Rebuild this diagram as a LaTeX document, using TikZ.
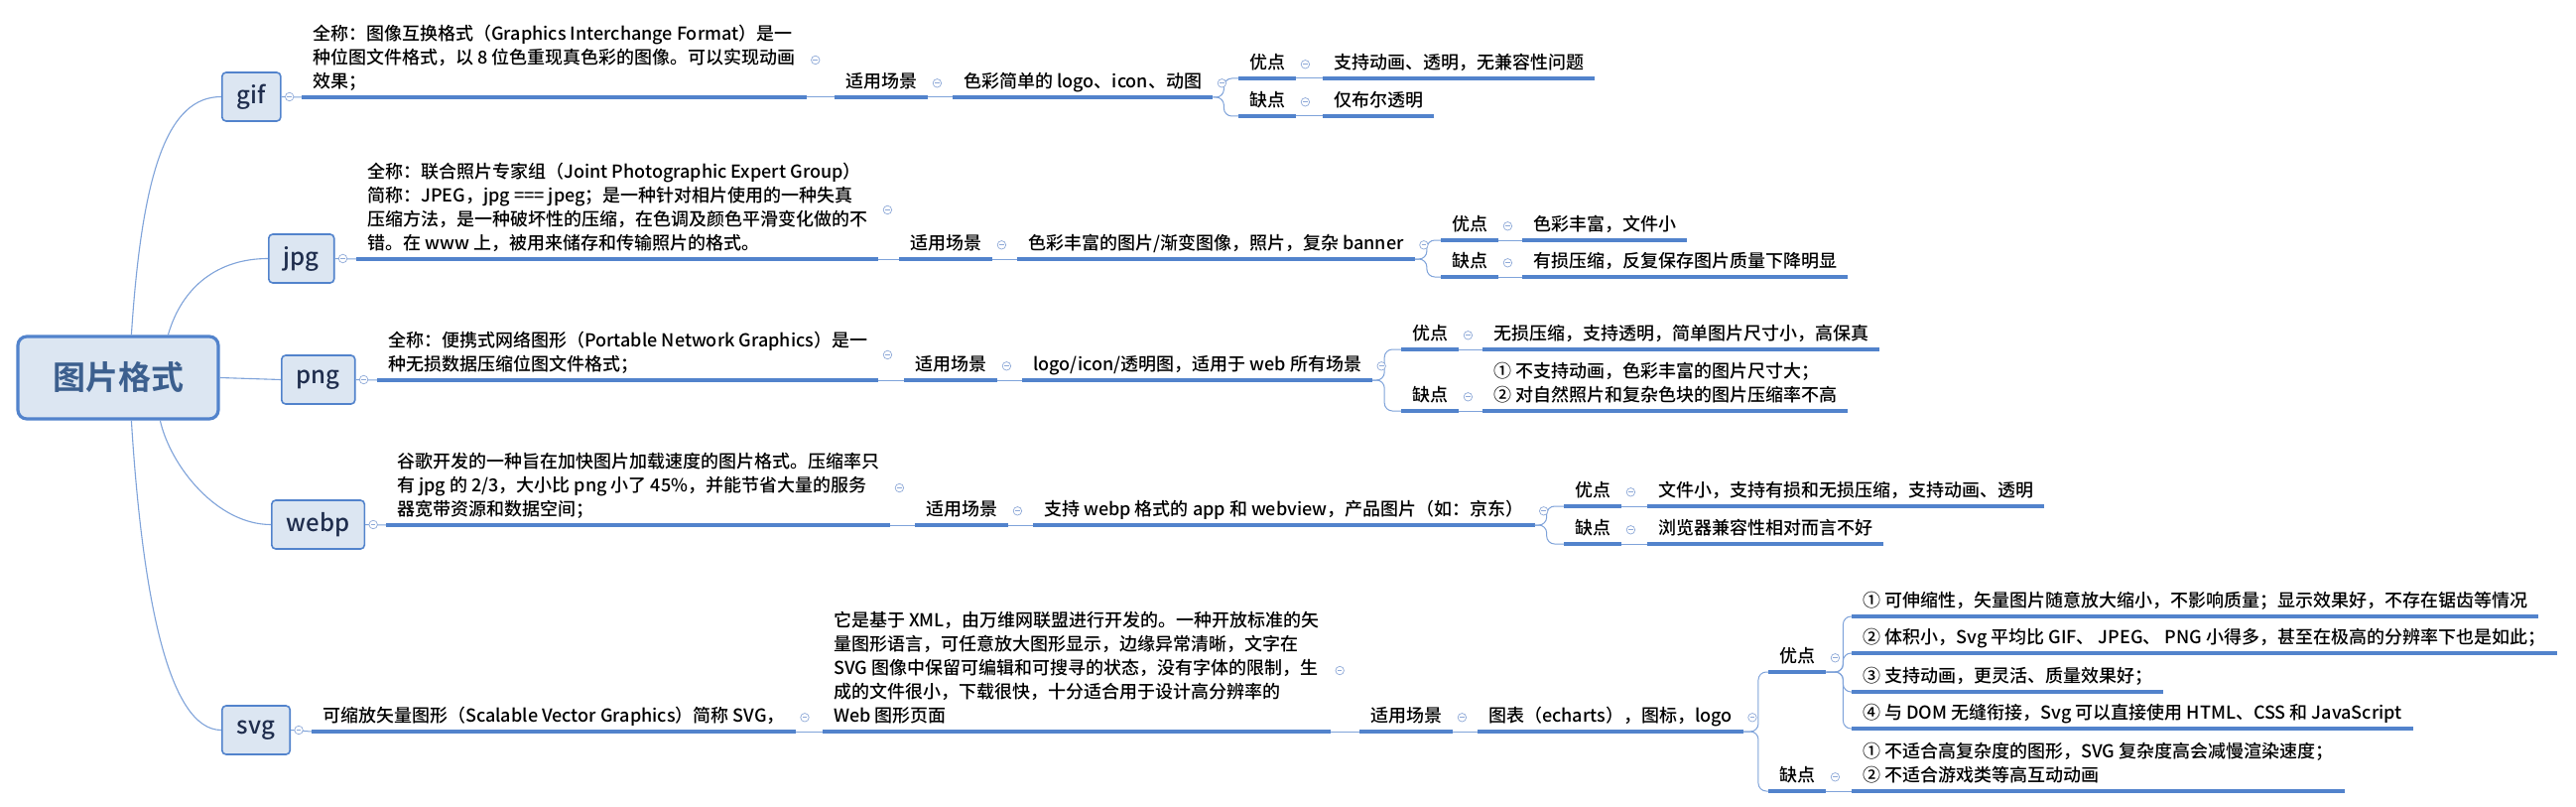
\documentclass[tikz,border=0pt]{standalone}
\usepackage{fontspec}
\setmainfont{Noto Sans CJK SC}[UprightFont=* Medium, BoldFont=* Bold]
\usepackage{xcolor}
\usepackage{tikz}

\definecolor{lineblue}{HTML}{5283CC}
\definecolor{linkblue}{HTML}{7FA3DA}
\definecolor{boxfill}{HTML}{DCE6F2}
\definecolor{rootink}{HTML}{3C5F8E}
\definecolor{fmtink}{HTML}{1F2D4D}
\definecolor{foldblue}{HTML}{8EA9D8}

\begin{document}
\begin{tikzpicture}[
  x=1pt, y=-1pt,
  every node/.style={font=\fontsize{18}{24}\selectfont, text=black},
  rootbox/.style={draw=lineblue, line width=3.2pt, rounded corners=9pt,
                fill=boxfill, minimum width=202pt, minimum height=83pt,
                font=\fontsize{33}{36}\selectfont\bfseries, text=rootink},
  fmt/.style={draw=lineblue, line width=1.6pt, rounded corners=4pt,
                fill=boxfill, anchor=west, minimum height=49pt,
                inner xsep=15pt, font=\fontsize{24}{28}\selectfont, text=fmtink},
  uline/.style={draw=lineblue, line width=3.6pt},
  topic/.style={anchor=south west, inner xsep=11pt, inner ysep=2pt, align=left,
                execute at begin node=\strut, execute at end node=\strut,
                append after command={\pgfextra{\draw[uline]
                  (\tikzlastnode.south west) -- (\tikzlastnode.south east);}}},
  link/.style={draw=linkblue, line width=1pt},
  branch/.style={draw=linkblue, line width=1.1pt},
  fork/.style={link, rounded corners=8pt},
  fold/.style={circle, draw=foldblue, fill=white, line width=0.7pt,
                minimum size=8.5pt, inner sep=0pt,
                path picture={\draw[foldblue, line width=0.7pt]
                  ([xshift=-2.3pt]path picture bounding box.center) --
                  ([xshift=2.3pt]path picture bounding box.center);}}]

\fill[white, use as bounding box] (0,0) rectangle (2596,813);

%% ---- raíz y formatos ----
\node[rootbox] (root) at (119,380.5) {图片格式};

\node[fmt] (gif)  at (223,97.5)  {gif};
\node[fmt] (jpg)  at (270,260.5) {jpg};
\node[fmt] (png)  at (283,382.5) {png};
\node[fmt] (webp) at (273,528.5) {webp};
\node[fmt] (svg)  at (223,735.5) {svg};

% ramas curvas desde el borde de la raíz
\draw[branch] ([xshift=116pt]root.north west)
  .. controls +(11,-169) and +(-53,0) .. (gif.west);
\draw[branch] ([xshift=153pt]root.north west)
  .. controls +(14,-49) and +(-50,0) .. (jpg.west);
\draw[branch] (root.east) -- (png.west);
\draw[branch] ([xshift=145pt]root.south west)
  .. controls +(10,45) and +(-55,0) .. (webp.west);
\draw[branch] ([xshift=116pt]root.south west)
  .. controls +(11,178) and +(-53,0) .. (svg.west);

%% ---- fila gif ----
\node[topic] (gifdesc) at (304,98)
  {全称：图像互换格式（Graphics Interchange Format）是一\\
   种位图文件格式，以 8 位色重现真色彩的图像。可以实现动画\\
   效果；};
\node[topic] (gifuse)   at (841,98)   {适用场景};
\node[topic] (gifscene) at (960,98)   {色彩简单的 logo、icon、动图};
\node[topic] (gifpro)   at (1248,79)  {优点};
\node[topic] (gifproT)  at (1333,79)  {支持动画、透明，无兼容性问题};
\node[topic] (gifcon)   at (1248,117) {缺点};
\node[topic] (gifconT)  at (1333,117) {仅布尔透明};

\draw[link] (gif.east) -- (gifdesc.south west);
\draw[link] (gifdesc.south east) -- (gifuse.south west);
\draw[link] (gifuse.south east) -- (gifscene.south west);
\draw[fork] (gifscene.south east) -- ++(11,0) |- (gifpro.south west);
\draw[fork] (gifscene.south east) -- ++(11,0) |- (gifcon.south west);
\draw[link] (gifpro.south east) -- (gifproT.south west);
\draw[link] (gifcon.south east) -- (gifconT.south west);

%% ---- fila jpg ----
\node[topic] (jpgdesc) at (359,261)
  {全称：联合照片专家组（Joint Photographic Expert Group）\\
   简称：JPEG，jpg === jpeg；是一种针对相片使用的一种失真\\
   压缩方法，是一种破坏性的压缩，在色调及颜色平滑变化做的不\\
   错。在 www 上，被用来储存和传输照片的格式。};
\node[topic] (jpguse)   at (906,261)  {适用场景};
\node[topic] (jpgscene) at (1025,261) {色彩丰富的图片/渐变图像，照片，复杂 banner};
\node[topic] (jpgpro)   at (1452,242) {优点};
\node[topic] (jpgproT)  at (1534,242) {色彩丰富，文件小};
\node[topic] (jpgcon)   at (1452,279) {缺点};
\node[topic] (jpgconT)  at (1534,279) {有损压缩，反复保存图片质量下降明显};

\draw[link] (jpg.east) -- (jpgdesc.south west);
\draw[link] (jpgdesc.south east) -- (jpguse.south west);
\draw[link] (jpguse.south east) -- (jpgscene.south west);
\draw[fork] (jpgscene.south east) -- ++(12,0) |- (jpgpro.south west);
\draw[fork] (jpgscene.south east) -- ++(12,0) |- (jpgcon.south west);
\draw[link] (jpgpro.south east) -- (jpgproT.south west);
\draw[link] (jpgcon.south east) -- (jpgconT.south west);

%% ---- fila png ----
\node[topic] (pngdesc) at (380,383)
  {全称：便携式网络图形（Portable Network Graphics）是一\\
   种无损数据压缩位图文件格式；};
\node[topic] (pnguse)   at (911,383)  {适用场景};
\node[topic] (pngscene) at (1030,383) {logo/icon/透明图，适用于 web 所有场景};
\node[topic] (pngpro)   at (1412,352) {优点};
\node[topic] (pngproT)  at (1494,352) {无损压缩，支持透明，简单图片尺寸小，高保真};
\node[topic] (pngcon)   at (1412,414) {缺点};
\node[topic] (pngconT)  at (1494,414)
  {① 不支持动画，色彩丰富的图片尺寸大；\\
   ② 对自然照片和复杂色块的图片压缩率不高};

\draw[link] (png.east) -- (pngdesc.south west);
\draw[link] (pngdesc.south east) -- (pnguse.south west);
\draw[link] (pnguse.south east) -- (pngscene.south west);
\draw[fork] (pngscene.south east) -- ++(12,0) |- (pngpro.south west);
\draw[fork] (pngscene.south east) -- ++(12,0) |- (pngcon.south west);
\draw[link] (pngpro.south east) -- (pngproT.south west);
\draw[link] (pngcon.south east) -- (pngconT.south west);

%% ---- fila webp ----
\node[topic] (webpdesc) at (389,529)
  {谷歌开发的一种旨在加快图片加载速度的图片格式。压缩率只\\
   有 jpg 的 2/3，大小比 png 小了 45\%，并能节省大量的服务\\
   器宽带资源和数据空间；};
\node[topic] (webpuse)   at (922,529)  {适用场景};
\node[topic] (webpscene) at (1041,529) {支持 webp 格式的 app 和 webview，产品图片（如：京东）};
\node[topic] (webppro)   at (1576,510) {优点};
\node[topic] (webpproT)  at (1660,510) {文件小，支持有损和无损压缩，支持动画、透明};
\node[topic] (webpcon)   at (1576,548) {缺点};
\node[topic] (webpconT)  at (1660,548) {浏览器兼容性相对而言不好};

\draw[link] (webp.east) -- (webpdesc.south west);
\draw[link] (webpdesc.south east) -- (webpuse.south west);
\draw[link] (webpuse.south east) -- (webpscene.south west);
\draw[fork] (webpscene.south east) -- ++(12,0) |- (webppro.south west);
\draw[fork] (webpscene.south east) -- ++(12,0) |- (webpcon.south west);
\draw[link] (webppro.south east) -- (webpproT.south west);
\draw[link] (webpcon.south east) -- (webpconT.south west);

%% ---- fila svg ----
\node[topic] (svgname) at (314,737)
  {可缩放矢量图形（Scalable Vector Graphics）简称 SVG，};
\node[topic] (svgdesc) at (829,737)
  {它是基于 XML，由万维网联盟进行开发的。一种开放标准的矢\\
   量图形语言，可任意放大图形显示，边缘异常清晰，文字在\\
   SVG 图像中保留可编辑和可搜寻的状态，没有字体的限制，生\\
   成的文件很小，下载很快，十分适合用于设计高分辨率的\\
   Web 图形页面};
\node[topic] (svguse)   at (1370,737) {适用场景};
\node[topic] (svgscene) at (1489,737) {图表（echarts），图标，logo};
\node[topic] (svgpro)   at (1782,677) {优点};
\node[topic] (svgcon)   at (1782,797) {缺点};
\node[topic] (svgp1) at (1866,621)
  {① 可伸缩性，矢量图片随意放大缩小，不影响质量；显示效果好，不存在锯齿等情况};
\node[topic] (svgp2) at (1866,658)
  {② 体积小，Svg 平均比 GIF、 JPEG、 PNG 小得多，甚至在极高的分辨率下也是如此；};
\node[topic] (svgp3) at (1866,697) {③ 支持动画，更灵活、质量效果好；};
\node[topic] (svgp4) at (1866,734)
  {④ 与 DOM 无缝衔接，Svg 可以直接使用 HTML、CSS 和 JavaScript};
\node[topic] (svgconT) at (1866,797)
  {① 不适合高复杂度的图形，SVG 复杂度高会减慢渲染速度；\\
   ② 不适合游戏类等高互动动画};

\draw[link] (svg.east) -- (svgname.south west);
\draw[link] (svgname.south east) -- (svgdesc.south west);
\draw[link] (svgdesc.south east) -- (svguse.south west);
\draw[link] (svguse.south east) -- (svgscene.south west);
\draw[fork] (svgscene.south east) -- ++(15,0) |- (svgpro.south west);
\draw[fork] (svgscene.south east) -- ++(15,0) |- (svgcon.south west);
% los cuatro puntos fuertes cuelgan de un mismo lomo
\draw[fork] (svgpro.south east) -- ++(17,0) |- (svgp1.south west);
\draw[fork] (svgpro.south east) -- ++(17,0) |- (svgp2.south west);
\draw[fork] (svgpro.south east) -- ++(17,0) |- (svgp3.south west);
\draw[fork] (svgpro.south east) -- ++(17,0) |- (svgp4.south west);
\draw[link] (svgcon.south east) -- (svgconT.south west);

%% ---- marcas de plegado, encima de las líneas ----
\node[fold] (gif-f)      at ([xshift=8pt]gif.east) {};
\node[fold] (gifdesc-f)  at ([xshift=9pt]gifdesc.east) {};
\node[fold] (gifuse-f)   at ([xshift=9pt]gifuse.east) {};
\node[fold] (gifscene-f) at ([xshift=9pt]gifscene.east) {};
\node[fold] (gifpro-f)   at ([xshift=9pt]gifpro.east) {};
\node[fold] (gifcon-f)   at ([xshift=9pt]gifcon.east) {};

\node[fold] (jpg-f)      at ([xshift=8pt]jpg.east) {};
\node[fold] (jpgdesc-f)  at ([xshift=9pt]jpgdesc.east) {};
\node[fold] (jpguse-f)   at ([xshift=9pt]jpguse.east) {};
\node[fold] (jpgscene-f) at ([xshift=9pt]jpgscene.east) {};
\node[fold] (jpgpro-f)   at ([xshift=9pt]jpgpro.east) {};
\node[fold] (jpgcon-f)   at ([xshift=9pt]jpgcon.east) {};

\node[fold] (png-f)      at ([xshift=8pt]png.east) {};
\node[fold] (pngdesc-f)  at ([xshift=9pt]pngdesc.east) {};
\node[fold] (pnguse-f)   at ([xshift=9pt]pnguse.east) {};
\node[fold] (pngscene-f) at ([xshift=9pt]pngscene.east) {};
\node[fold] (pngpro-f)   at ([xshift=9pt]pngpro.east) {};
\node[fold] (pngcon-f)   at ([xshift=9pt]pngcon.east) {};

\node[fold] (webp-f)      at ([xshift=8pt]webp.east) {};
\node[fold] (webpdesc-f)  at ([xshift=9pt]webpdesc.east) {};
\node[fold] (webpuse-f)   at ([xshift=9pt]webpuse.east) {};
\node[fold] (webpscene-f) at ([xshift=9pt]webpscene.east) {};
\node[fold] (webppro-f)   at ([xshift=9pt]webppro.east) {};
\node[fold] (webpcon-f)   at ([xshift=9pt]webpcon.east) {};

\node[fold] (svg-f)      at ([xshift=8pt]svg.east) {};
\node[fold] (svgname-f)  at ([xshift=9pt]svgname.east) {};
\node[fold] (svgdesc-f)  at ([xshift=9pt]svgdesc.east) {};
\node[fold] (svguse-f)   at ([xshift=9pt]svguse.east) {};
\node[fold] (svgscene-f) at ([xshift=9pt]svgscene.east) {};
\node[fold] (svgpro-f)   at ([xshift=9pt]svgpro.east) {};
\node[fold] (svgcon-f)   at ([xshift=9pt]svgcon.east) {};
\end{tikzpicture}
\end{document}
